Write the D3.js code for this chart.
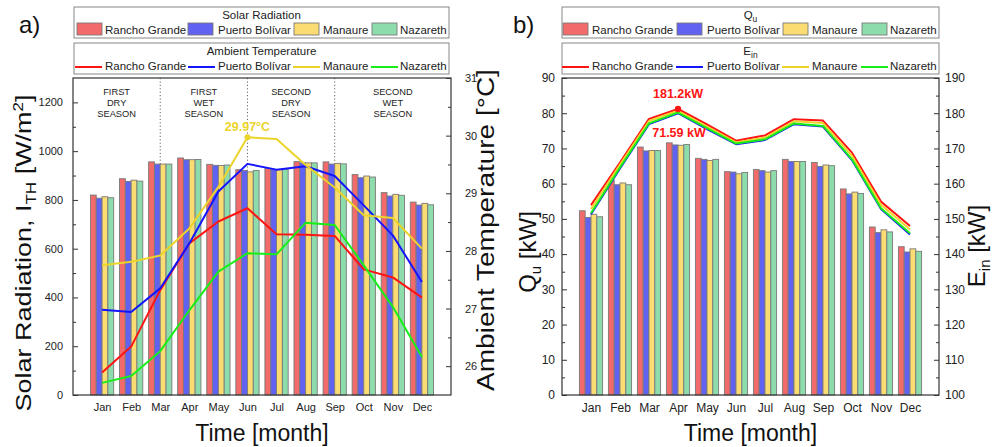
<!DOCTYPE html>
<html><head><meta charset="utf-8">
<script src="https://cdnjs.cloudflare.com/ajax/libs/d3/7.8.5/d3.min.js"></script>
<style>
body{margin:0;background:#fff;}
svg{display:block;font-family:"Liberation Sans",Arial,sans-serif;}
</style></head>
<body>
<svg id="chart" width="992" height="447"></svg>
<script>
const months = ["Jan","Feb","Mar","Apr","May","Jun","Jul","Aug","Sep","Oct","Nov","Dec"];
const sites = ["Rancho Grande","Puerto Bolívar","Manaure","Nazareth"];
const barColors = ["#f26a6a","#6262f2","#fbdc72","#8ddcab"];
const lineColors = ["#ff1414","#1414ff","#ecd42a","#18ee18"];

// Solar radiation [W/m2]
const solarRG = [820, 887, 956, 972, 946, 924, 929, 957, 956, 904, 830, 791];
const solarPB = [807, 876, 947, 965, 942, 921, 924, 952, 947, 891, 816, 779];
const solarMA = [813, 881, 947, 965, 941, 915, 924, 952, 950, 898, 823, 786];
const solarNA = [809, 877, 947, 966, 943, 921, 926, 952, 948, 894, 819, 780];
// Ambient temperature [°C]
const tempRG = [25.89, 26.34, 27.32, 28.13, 28.51, 28.74, 28.29, 28.28, 28.26, 27.68, 27.54, 27.19];
const tempPB = [26.98, 26.94, 27.35, 28.13, 29.03, 29.51, 29.41, 29.47, 29.30, 28.79, 28.27, 27.46];
const tempMA = [27.75, 27.81, 27.92, 28.39, 29.11, 29.97, 29.94, 29.49, 29.10, 28.62, 28.57, 28.04];
const tempNA = [25.71, 25.83, 26.26, 26.97, 27.64, 27.96, 27.94, 28.49, 28.45, 27.75, 27.03, 26.16];
// Useful heat Qu [kW]
const quRG = [52.3, 61.0, 70.4, 71.59, 67.2, 63.4, 64.0, 66.9, 66.0, 58.5, 47.7, 42.1];
const quPB = [50.4, 59.7, 69.3, 71.0, 66.9, 63.3, 63.7, 66.3, 64.9, 57.1, 46.1, 40.6];
const quMA = [51.3, 60.2, 69.4, 70.9, 66.6, 62.8, 63.3, 66.3, 65.3, 57.6, 46.9, 41.5];
const quNA = [50.6, 59.7, 69.4, 71.1, 66.9, 63.2, 63.7, 66.3, 65.1, 57.2, 46.3, 40.8];
// Input energy Ein [kW]
const einRG = [153.9, 166.0, 178.4, 181.2, 176.8, 172.2, 173.7, 178.3, 177.9, 168.8, 154.9, 148.0];
const einPB = [151.3, 164.3, 176.9, 180.0, 175.5, 171.2, 172.4, 176.9, 176.2, 166.7, 152.8, 145.6];
const einMA = [152.8, 165.4, 177.8, 180.7, 176.2, 171.7, 173.1, 177.7, 177.2, 167.9, 154.0, 147.0];
const einNA = [151.6, 164.6, 177.1, 180.2, 175.8, 171.4, 172.6, 177.1, 176.4, 166.9, 153.0, 145.9];

const seasons = [
  {lines:["FIRST","DRY","SEASON"], from:0, to:3},
  {lines:["FIRST","WET","SEASON"], from:3, to:6},
  {lines:["SECOND","DRY","SEASON"], from:6, to:9},
  {lines:["SECOND","WET","SEASON"], from:9, to:13}
];
const dividers = [3, 6, 9];
const solarTicks = [0,200,400,600,800,1000,1200];
const tempTicks = [26,27,28,29,30,31];
const quTicks = [0,10,20,30,40,50,60,70,80,90];
const einTicks = [100,110,120,130,140,150,160,170,180,190];

const svg = d3.select("#chart");

function panel(cfg){
  const g = svg.append("g");
  const x = d3.scaleLinear().domain([0,13]).range([cfg.x0,cfg.x1]);
  const yL = d3.scaleLinear().domain(cfg.yLdom).range([cfg.y1,cfg.y0]);
  const yR = d3.scaleLinear().domain(cfg.yRdom).range([cfg.y1,cfg.y0]);
  const step = x(1)-x(0);
  const bw = step*0.8/4;

  (cfg.dividers||[]).forEach(m=>{
    g.append("line").attr("x1",x(m)).attr("x2",x(m)).attr("y1",cfg.y0).attr("y2",cfg.y1)
      .attr("stroke","#666").attr("stroke-width",1).attr("stroke-dasharray","1.2,2.2");
  });

  cfg.bars.forEach((arr,s)=>{
    g.append("g").selectAll("rect").data(arr).join("rect")
      .attr("x",(d,i)=>x(i+1)+(s-2)*bw)
      .attr("y",d=>yL(d))
      .attr("width",bw)
      .attr("height",d=>yL(cfg.yLdom[0])-yL(d))
      .attr("fill",barColors[s])
      .attr("stroke","#7a7a7a").attr("stroke-width",0.9);
  });

  const line = d3.line().x((d,i)=>x(i+1)).y(d=>yR(d));
  cfg.lines.forEach((arr,s)=>{
    g.append("path").datum(arr).attr("d",line).attr("fill","none")
      .attr("stroke",lineColors[s]).attr("stroke-width",2).attr("stroke-linejoin","round");
  });

  g.append("rect").attr("x",cfg.x0).attr("y",cfg.y0).attr("width",cfg.x1-cfg.x0).attr("height",cfg.y1-cfg.y0)
    .attr("fill","none").attr("stroke","#333").attr("stroke-width",1.2);

  const fs = cfg.tickFont;
  const minor = (t)=>{const r=[];for(let i=0;i<t.length-1;i++)r.push((t[i]+t[i+1])/2);return r;};
  const aL = g.append("g").attr("transform",`translate(${cfg.x0},0)`)
    .call(d3.axisLeft(yL).tickValues(cfg.yLticks).tickSize(-5).tickPadding(cfg.padL).tickFormat(d3.format("d")));
  g.append("g").attr("transform",`translate(${cfg.x0},0)`)
    .call(d3.axisLeft(yL).tickValues(minor(cfg.yLticks)).tickSize(-3).tickFormat(""));
  const aR = g.append("g").attr("transform",`translate(${cfg.x1},0)`)
    .call(d3.axisRight(yR).tickValues(cfg.yRticks).tickSize(-5).tickPadding(cfg.padR).tickFormat(d3.format("d")));
  g.append("g").attr("transform",`translate(${cfg.x1},0)`)
    .call(d3.axisRight(yR).tickValues(minor(cfg.yRticks)).tickSize(-3).tickFormat(""));
  const aB = g.append("g").attr("transform",`translate(0,${cfg.y1})`)
    .call(d3.axisBottom(x).tickValues(d3.range(1,13)).tickSize(0).tickPadding(8).tickFormat(d=>months[d-1]));
  g.selectAll(".domain").remove();
  [aL,aR,aB].forEach(a=>a.selectAll("text").attr("font-size",fs).attr("fill","#222").attr("font-family","Liberation Sans, Arial, sans-serif"));
  g.selectAll(".tick line").attr("stroke","#333");

  return {x,yL,yR};
}

const L = panel({x0:73,x1:451,y0:78,y1:395,yLdom:[0,1300],yRdom:[25.5,31],yLticks:solarTicks,yRticks:tempTicks,
  bars:[solarRG,solarPB,solarMA,solarNA], lines:[tempRG,tempPB,tempMA,tempNA], dividers, tickFont:"11px", padL:10, padR:14});
const R = panel({x0:562,x1:939,y0:78,y1:395,yLdom:[0,90],yRdom:[100,190],yLticks:quTicks,yRticks:einTicks,
  bars:[quRG,quPB,quMA,quNA], lines:[einRG,einPB,einMA,einNA], tickFont:"12px", padL:7, padR:6});

seasons.forEach(s=>{
  const cx = (L.x(s.from)+L.x(s.to))/2;
  const t = svg.append("text").attr("x",cx).attr("y",95).attr("text-anchor","middle")
    .attr("font-size","9.3px").attr("fill","#222");
  s.lines.forEach((ln,i)=>t.append("tspan").attr("x",cx).attr("dy",i?11:0).text(ln));
});

svg.append("circle").attr("cx",L.x(6)).attr("cy",L.yR(tempMA[5])).attr("r",3).attr("fill","#ecd42a");
svg.append("text").attr("x",L.x(6)).attr("y",131).attr("text-anchor","middle").attr("font-size","12.5px")
  .attr("font-weight","bold").attr("fill","#ecd42a").text("29.97°C");
svg.append("circle").attr("cx",R.x(4)).attr("cy",R.yR(einRG[3])).attr("r",3.2).attr("fill","#ff1414");
svg.append("text").attr("x",R.x(4)).attr("y",98).attr("text-anchor","middle").attr("font-size","12.5px")
  .attr("font-weight","bold").attr("fill","#ff1414").text("181.2kW");
svg.append("text").attr("x",R.x(4)+1).attr("y",137).attr("text-anchor","middle").attr("font-size","12.5px")
  .attr("font-weight","bold").attr("fill","#ff1414").text(quRG[3].toFixed(2)+" kW");

function legend(bx0,bx1,title,sub,itemX,textX,isBar,yTop){
  const g = svg.append("g");
  g.append("rect").attr("x",bx0).attr("y",yTop).attr("width",bx1-bx0).attr("height",31)
    .attr("fill","#fff").attr("stroke","#888").attr("stroke-width",1);
  const t = g.append("text").attr("x",(bx0+bx1)/2).attr("y",yTop+12).attr("text-anchor","middle")
    .attr("font-size","11.5px").attr("fill","#222").text(title);
  if(sub) t.append("tspan").attr("font-size","8.5px").attr("dy",3).text(sub);
  sites.forEach((s,i)=>{
    if(isBar){
      g.append("rect").attr("x",itemX[i]).attr("y",yTop+16).attr("width",25).attr("height",12)
        .attr("fill",barColors[i]).attr("stroke","#7a7a7a").attr("stroke-width",0.9);
    } else {
      g.append("line").attr("x1",itemX[i]).attr("x2",itemX[i]+27).attr("y1",yTop+24).attr("y2",yTop+24)
        .attr("stroke",lineColors[i]).attr("stroke-width",2);
    }
    g.append("text").attr("x",textX[i]).attr("y",yTop+26.5).attr("font-size","11.5px").attr("fill","#222").text(s);
  });
}
legend(74,449,"Solar Radiation",null,[77,188,294,372],[105,218,323,400],true,7);
legend(74,449,"Ambient Temperature",null,[75,188,293,371],[105,218,323,400],false,43);
legend(562,939,"Q","u",[563,677,783,862],[592,707,812,890],true,7);
legend(562,939,"E","in",[562,676,782,861],[592,707,812,890],false,43);

function ytitle(x,y,size,sx,parts){
  const t = svg.append("text").attr("transform",`translate(${x},${y}) scale(${sx},1) rotate(-90)`).attr("text-anchor","middle")
    .attr("font-size",size+"px").attr("fill","#111");
  parts.forEach(p=>{
    const ts = t.append("tspan").text(p.t);
    if(p.s) ts.attr("font-size",p.s);
    if(p.dy) ts.attr("dy",p.dy);
  });
}
ytitle(31,253,27,0.85,[{t:"Solar Radiation, I"},{t:"TH",s:"17px",dy:"6"},{t:" [W/m",dy:"-6"},{t:"2",s:"17px",dy:"-10"},{t:"]",dy:"10"}]);
ytitle(494,230,28,0.83,[{t:"Ambient Temperature [°C]"}]);
ytitle(536,252,24,1,[{t:"Q"},{t:"u",s:"15px",dy:"5"},{t:" [kW]",dy:"-5"}]);
ytitle(985,246,24,1,[{t:"E"},{t:"in",s:"15px",dy:"5"},{t:" [kW]",dy:"-5"}]);

svg.append("text").attr("x",(73+451)/2).attr("y",441).attr("text-anchor","middle").attr("font-size","23px").attr("fill","#111").text("Time [month]");
svg.append("text").attr("x",(562+939)/2).attr("y",441).attr("text-anchor","middle").attr("font-size","23px").attr("fill","#111").text("Time [month]");
svg.append("text").attr("x",19).attr("y",33).attr("font-size","24px").attr("fill","#111").text("a)");
svg.append("text").attr("x",513).attr("y",33).attr("font-size","24px").attr("fill","#111").text("b)");
</script>
</body></html>
